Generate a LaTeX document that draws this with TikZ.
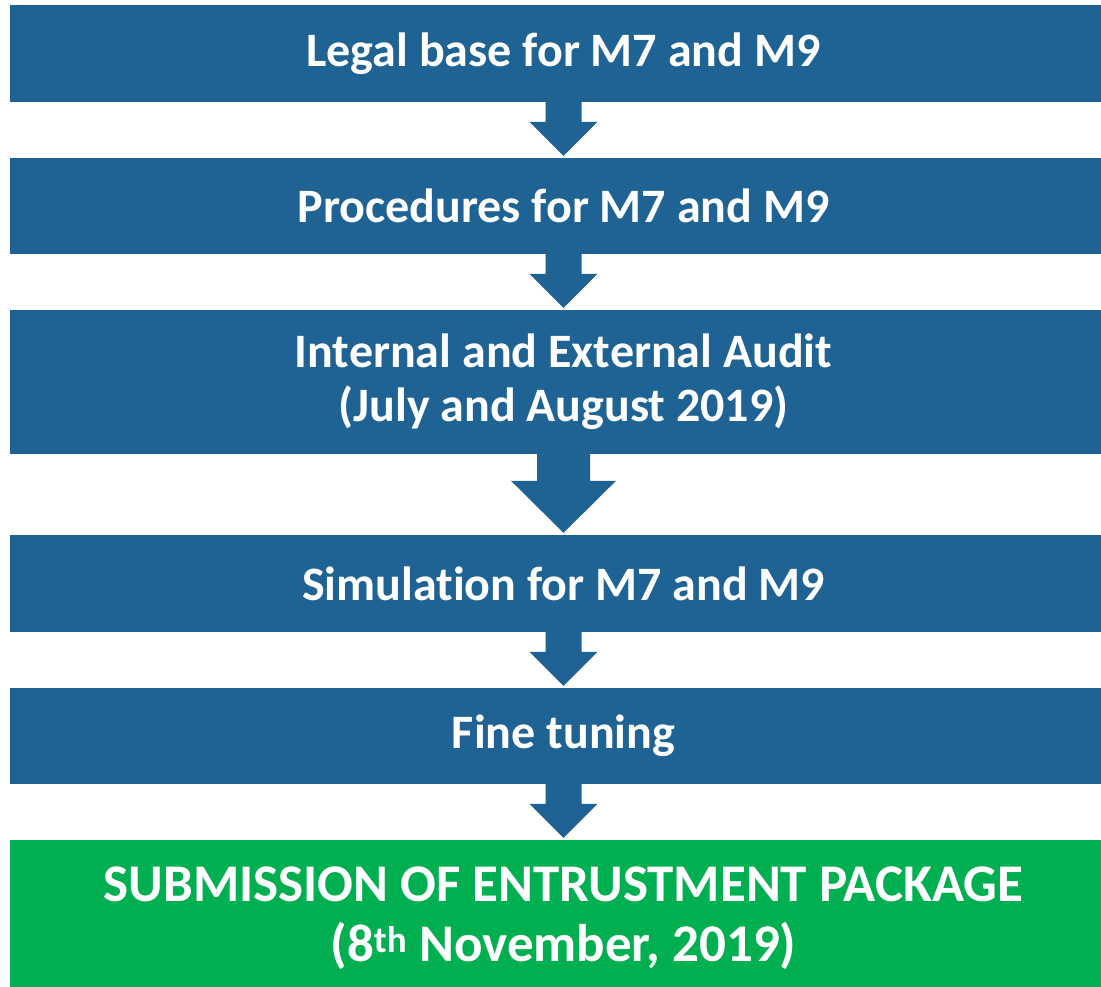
\documentclass[tikz,border=0pt]{standalone}
\usepackage{fontspec}
\setmainfont{Carlito}[Ligatures=NoCommon]
\usetikzlibrary{calc}
\definecolor{stepblue}{RGB}{31,99,148}
\definecolor{stepgreen}{RGB}{0,176,80}

% fat down arrow: from, to, half shaft, half head, head length
\newcommand{\flowarrow}[5]{%
  \fill[stepblue] ($(#1.south)+(-#3,-1)$) -- ($(#1.south)+(#3,-1)$)
    -- ($(#2.north)+(#3,-#5-2)$) -- ($(#2.north)+(#4,-#5-2)$)
    -- ($(#2.north)+(0,-2)$)
    -- ($(#2.north)+(-#4,-#5-2)$) -- ($(#2.north)+(-#3,-#5-2)$) -- cycle;}

\begin{document}
\begin{tikzpicture}[x=1pt,y=-1pt,
  stepbox/.style={fill=stepblue,text=white,align=center,inner sep=0pt,
    minimum width=1107pt,font=\bfseries\fontsize{48}{54}\selectfont}]
  \clip (0,0) rectangle (1101,986);
  \node[stepbox,minimum height=97pt] (legal) at (563.5,53.5) {Legal base for M7 and M9};
  \node[stepbox,minimum height=96pt] (proc) at (563.5,206) {Procedures for M7 and M9};
  \node[stepbox,minimum height=144pt] (audit) at (563.5,382) {Internal and External Audit\\(July and August 2019)};
  \node[stepbox,minimum height=97pt] (sim) at (563.5,583.5) {Simulation for M7 and M9};
  \node[stepbox,minimum height=96pt] (fine) at (563.5,736) {Fine tuning};
  \node[stepbox,fill=stepgreen,minimum height=156pt,font=\bfseries\fontsize{53}{60}\selectfont] (submit) at (563.5,918)
    {SUBMISSION OF ENTRUSTMENT PACKAGE\\(8\textsuperscript{th} November, 2019)};
  \flowarrow{legal}{proc}{18}{34}{34}
  \flowarrow{proc}{audit}{18}{34}{34}
  \flowarrow{audit}{sim}{26.5}{52.5}{52}
  \flowarrow{sim}{fine}{18}{34}{34}
  \flowarrow{fine}{submit}{18}{34}{34}
\end{tikzpicture}
\end{document}
